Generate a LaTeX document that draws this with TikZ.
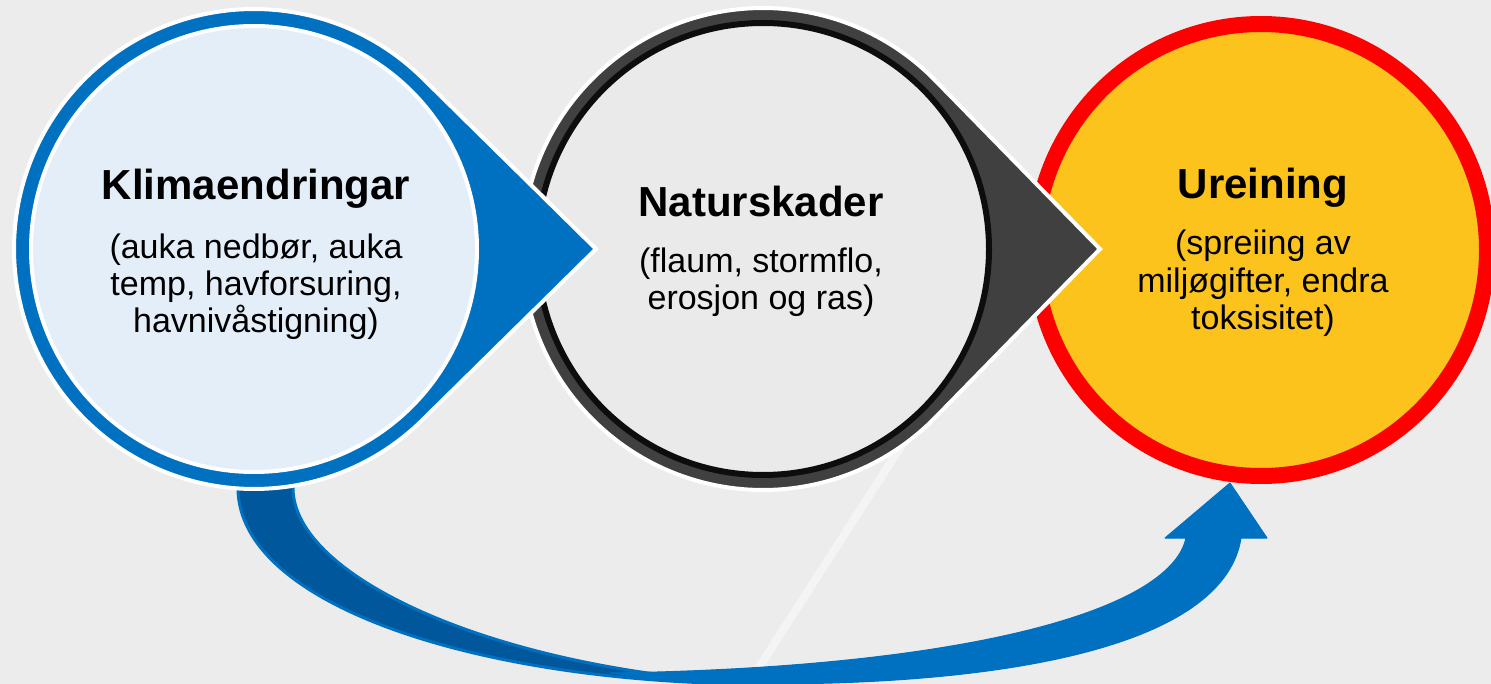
\documentclass[tikz,border=0pt]{standalone}
\usepackage{fontspec}
\setmainfont{Liberation Sans}
\usetikzlibrary{calc}
\definecolor{bg}{HTML}{ECECEC}
\definecolor{kblue}{HTML}{0070C0}
\definecolor{kdark}{HTML}{00579B}
\definecolor{klight}{HTML}{E4EEF8}
\definecolor{ngray}{HTML}{404040}
\definecolor{nfill}{HTML}{EAEAEA}
\definecolor{nblack}{HTML}{0D0D0D}
\definecolor{uyellow}{HTML}{FBC31B}
\definecolor{ured}{HTML}{FF0000}
\begin{document}
\begin{tikzpicture}[x=1pt,y=-1pt,
  title/.style={font=\bfseries\fontsize{42}{48}\selectfont, anchor=base, inner sep=0pt},
  sub/.style={font=\fontsize{34}{38}\selectfont, anchor=base, inner sep=0pt},
  outline/.style={draw=white, line width=4pt, line join=miter}]
\fill[bg] (0,0) rectangle (1491,684);
\useasboundingbox (0,0) rectangle (1491,684);
% faint streak of the background
\draw[white, opacity=0.45, line width=8pt, line cap=round] (905,440) -- (738,700);

% centres and tips
\coordinate (c1) at (254,249);
\coordinate (tip1) at (596,249);
\coordinate (c2) at (763,249);
\coordinate (tip2) at (1100,249);
\coordinate (c3) at (1261,250);

% curved arrow: back (dark) side
\coordinate (arrA) at (238,470);
\coordinate (arrC) at (293,470);
\coordinate (arrB) at (765,684);
\filldraw[fill=kdark, draw=kblue, line width=3pt, line join=round]
  (arrA) -- (238,488) .. controls (238,605) and (480,684) .. (arrB)
  .. controls (500,672) and (293,578) .. (293,488) -- (arrC) -- cycle;
% curved arrow: front side with head
\coordinate (head) at (1230,483);
\filldraw[fill=kblue, draw=kblue, line width=1pt, line join=round]
  (610,673) .. controls (670,681) .. (arrB)
  .. controls (1030,684) and (1225,640) .. (1241,538)
  -- (1267,538) -- (head) -- (1165,538) -- (1186,538)
  .. controls (1170,612) and (960,668) .. (610,673) -- cycle;

% circle 3
\filldraw[fill=uyellow, draw=ured, line width=16pt] (c3) circle[radius=226];

% circle 2 with wedge
\filldraw[fill=ngray, outline] (tip2) -- ($(c2)+(-44.35:241)$)
  arc[start angle=-44.35, end angle=-315.65, radius=241] -- cycle;
\filldraw[fill=nfill, draw=nblack, line width=6pt] (c2) circle[radius=226];

% circle 1 with wedge
\filldraw[fill=kblue, outline] (tip1) -- ($(c1)+(-45.43:240)$)
  arc[start angle=-45.43, end angle=-314.57, radius=240] -- cycle;
\filldraw[fill=klight, draw=white, line width=4pt] (c1) circle[radius=223];

% texts
\node[title] (t1) at (256,200) {Klimaendringar};
\node[sub] (s1a) at (256,259) {(auka nedbør, auka};
\node[sub] (s1b) at (256,296) {temp, havforsuring,};
\node[sub] (s1c) at (256,333) {havnivåstigning)};

\node[title] (t2) at (761,217) {Naturskader};
\node[sub] (s2a) at (761,273) {(flaum, stormflo,};
\node[sub] (s2b) at (761,310) {erosjon og ras)};

\node[title] (t3) at (1263,199) {Ureining};
\node[sub] (s3a) at (1263,255) {(spreiing av};
\node[sub] (s3b) at (1263,293) {miljøgifter, endra};
\node[sub] (s3c) at (1263,330) {toksisitet)};
\end{tikzpicture}
\end{document}
